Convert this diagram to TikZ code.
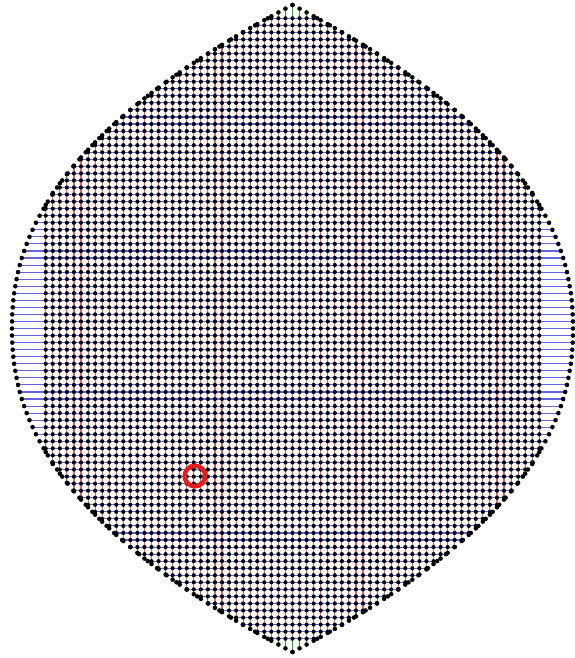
\documentclass[tikz,border=0pt]{standalone}
\definecolor{hblue}{RGB}{100,100,225}
\definecolor{vred}{RGB}{230,100,100}
\definecolor{bgreen}{RGB}{40,170,40}
\definecolor{mark}{RGB}{225,30,30}
\tikzset{
  hline/.style={draw=hblue,line width=1.1pt},
  vline/.style={draw=vred,line width=1.1pt},
  gline/.style={draw=bgreen,line width=1.1pt},
  dotc/.style={fill=black},
  bdot/.style={fill=black},
  ring/.style={draw=mark,line width=4.5pt}
}
\begin{document}
\begin{tikzpicture}[x=1pt,y=-1pt]
\useasboundingbox (0,0) rectangle (575,658);
\def\cx{292.5}\def\cy{328.5}\def\ra{280.5}\def\rb{323.5}\def\sp{7.05}\def\pe{2.2}
% horizontal lines
\foreach \k in {-44,...,44}{
  \pgfmathsetmacro{\yy}{\cy+\sp*(\k)}
  \pgfmathsetmacro{\hw}{\ra*(1-pow(abs(\sp*(\k))/\rb+0.00001,\pe))}
  \draw[hline] (\cx-\hw,\yy) -- (\cx+\hw,\yy);
}
% vertical lines
\foreach \i in {-35,...,35}{
  \pgfmathsetmacro{\xx}{\cx+\sp*(\i)}
  \pgfmathsetmacro{\hh}{\rb*pow(1-abs(\sp*(\i))/\ra,1/\pe)}
  \pgfmathtruncatemacro{\km}{min(44,floor(\hh/\sp))}
  \pgfmathsetmacro{\yi}{\sp*\km}
  \draw[vline] (\xx,\cy-\yi) -- (\xx,\cy+\yi);
  \draw[gline] (\xx,\cy-\hh) -- (\xx,\cy-\yi);
  \draw[gline] (\xx,\cy+\yi) -- (\xx,\cy+\hh);
  \fill[bdot] (\xx,\cy-\hh) circle[radius=2.3] (\xx,\cy+\hh) circle[radius=2.3];
}
% interior dots and row boundary dots
\foreach \k in {-44,...,44}{
  \pgfmathsetmacro{\yy}{\cy+\sp*(\k)}
  \pgfmathsetmacro{\hw}{\ra*(1-pow(abs(\sp*(\k))/\rb+0.00001,\pe))}
  \pgfmathtruncatemacro{\im}{min(35,floor(\hw/\sp))}
  \pgfmathtruncatemacro{\imn}{-\im}
  \fill[dotc] \foreach \i in {\imn,...,\im} { ({\cx+\sp*(\i)},\yy) circle[radius=2.1] };
  \fill[bdot] (\cx-\hw,\yy) circle[radius=2.3] (\cx+\hw,\yy) circle[radius=2.3];
}
% tips
\fill[bdot] (\cx,\cy-\rb) circle[radius=2.3] (\cx,\cy+\rb) circle[radius=2.3];
% marker
\draw[ring] (195,476) circle[radius=10.3];
\end{tikzpicture}
\end{document}
